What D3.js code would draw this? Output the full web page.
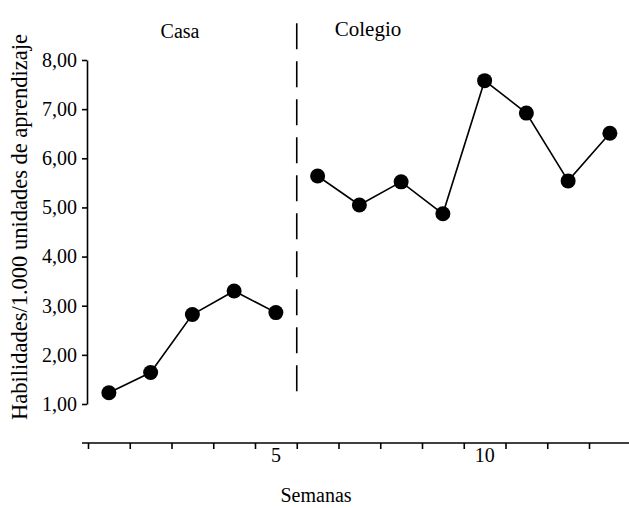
<!DOCTYPE html>
<html lang="es">
<head>
<meta charset="utf-8">
<title>Habilidades por semana</title>
<script src="https://cdn.jsdelivr.net/npm/d3@7"></script>
<style>
  body { margin: 0; background: #fff; }
  svg text { font-family: "Liberation Serif", Tinos, "Times New Roman", serif !important; fill: #000; }
</style>
</head>
<body>
<script>
// Data
const weeks = [1, 2, 3, 4, 5, 6, 7, 8, 9, 10, 11, 12, 13];
const casaWeeks = [1, 2, 3, 4, 5];
const casaValues = [1.23, 1.64, 2.82, 3.30, 2.86];
const colegioWeeks = [6, 7, 8, 9, 10, 11, 12, 13];
const colegioValues = [5.64, 5.05, 5.52, 4.87, 7.58, 6.92, 5.54, 6.51];
const yTicks = [1, 2, 3, 4, 5, 6, 7, 8];
const xLabels = [5, 10];
const phaseNames = ['Casa', 'Colegio'];
const phaseBreak = 5; // change after week 5

const width = 629, height = 508;
const fontSize = 20;

const svg = d3.select('body').append('svg')
  .attr('width', width)
  .attr('height', height);

// Scales
const x = d3.scaleBand()
  .domain(weeks)
  .range([88, 630.75]);

const xEdge = d3.scaleLinear()
  .domain([0, weeks.length])
  .range([88, 630.75]);

const y = d3.scaleLinear()
  .domain([1, 8])
  .range([404, 60]);

const fmt = d => d3.format('.2f')(d).replace('.', ',');

// Y axis
const yAxis = svg.append('g')
  .attr('transform', 'translate(87,0)')
  .call(d3.axisLeft(y)
    .tickValues(yTicks)
    .tickSize(5)
    .tickSizeOuter(0)
    .tickPadding(5)
    .tickFormat(fmt));
yAxis.attr('font-family', null).attr('font-size', null);
yAxis.selectAll('text')
  .style('font-size', fontSize + 'px');
yAxis.selectAll('path, line').attr('stroke', '#000').attr('stroke-width', 1.6);

// X axis (ticks at week boundaries)
const axisY = 443;
const xAxis = svg.append('g')
  .attr('transform', 'translate(0,' + axisY + ')')
  .call(d3.axisBottom(xEdge)
    .tickValues(d3.range(0, weeks.length))
    .tickSize(6)
    .tickSizeOuter(0)
    .tickFormat(''));
xAxis.select('.domain').attr('d', 'M82,0H' + width);
xAxis.selectAll('path, line').attr('stroke', '#000').attr('stroke-width', 1.6);

svg.selectAll('.xlabel')
  .data(xLabels)
  .enter()
  .append('text')
  .attr('class', 'xlabel')
  .attr('x', d => x(d) + x.bandwidth() / 2)
  .attr('y', 462)
  .attr('text-anchor', 'middle')
  .style('font-size', fontSize + 'px')
  .text(d => d);

// Axis titles
svg.append('text')
  .attr('x', 316)
  .attr('y', 502)
  .attr('text-anchor', 'middle')
  .style('font-size', fontSize + 'px')
  .text('Semanas');

svg.append('text')
  .attr('transform', 'translate(27,227) rotate(-90)')
  .attr('text-anchor', 'middle')
  .style('font-size', '22.5px')
  .text('Habilidades/1.000 unidades de aprendizaje');

// Phase change line
svg.append('line')
  .attr('x1', xEdge(phaseBreak))
  .attr('x2', xEdge(phaseBreak))
  .attr('y1', y(8.75))
  .attr('y2', y(1.18))
  .attr('stroke', '#000')
  .attr('stroke-width', 1.6)
  .attr('stroke-dasharray', '26,12');

// Phase labels
svg.append('text')
  .attr('x', 180)
  .attr('y', 38)
  .attr('text-anchor', 'middle')
  .style('font-size', fontSize + 'px')
  .text(phaseNames[0]);

svg.append('text')
  .attr('x', 368)
  .attr('y', 36)
  .attr('text-anchor', 'middle')
  .style('font-size', '21px')
  .text(phaseNames[1]);

// Series
const line = d3.line()
  .x(d => x(d[0]) + x.bandwidth() / 2)
  .y(d => y(d[1]));

const phases = [
  d3.zip(casaWeeks, casaValues),
  d3.zip(colegioWeeks, colegioValues)
];

phases.forEach(function (pts) {
  svg.append('path')
    .datum(pts)
    .attr('fill', 'none')
    .attr('stroke', '#000')
    .attr('stroke-width', 1.6)
    .attr('d', line);

  svg.selectAll(null)
    .data(pts)
    .enter()
    .append('circle')
    .attr('cx', d => x(d[0]) + x.bandwidth() / 2)
    .attr('cy', d => y(d[1]))
    .attr('r', 7.5)
    .attr('fill', '#000');
});
</script>
</body>
</html>
